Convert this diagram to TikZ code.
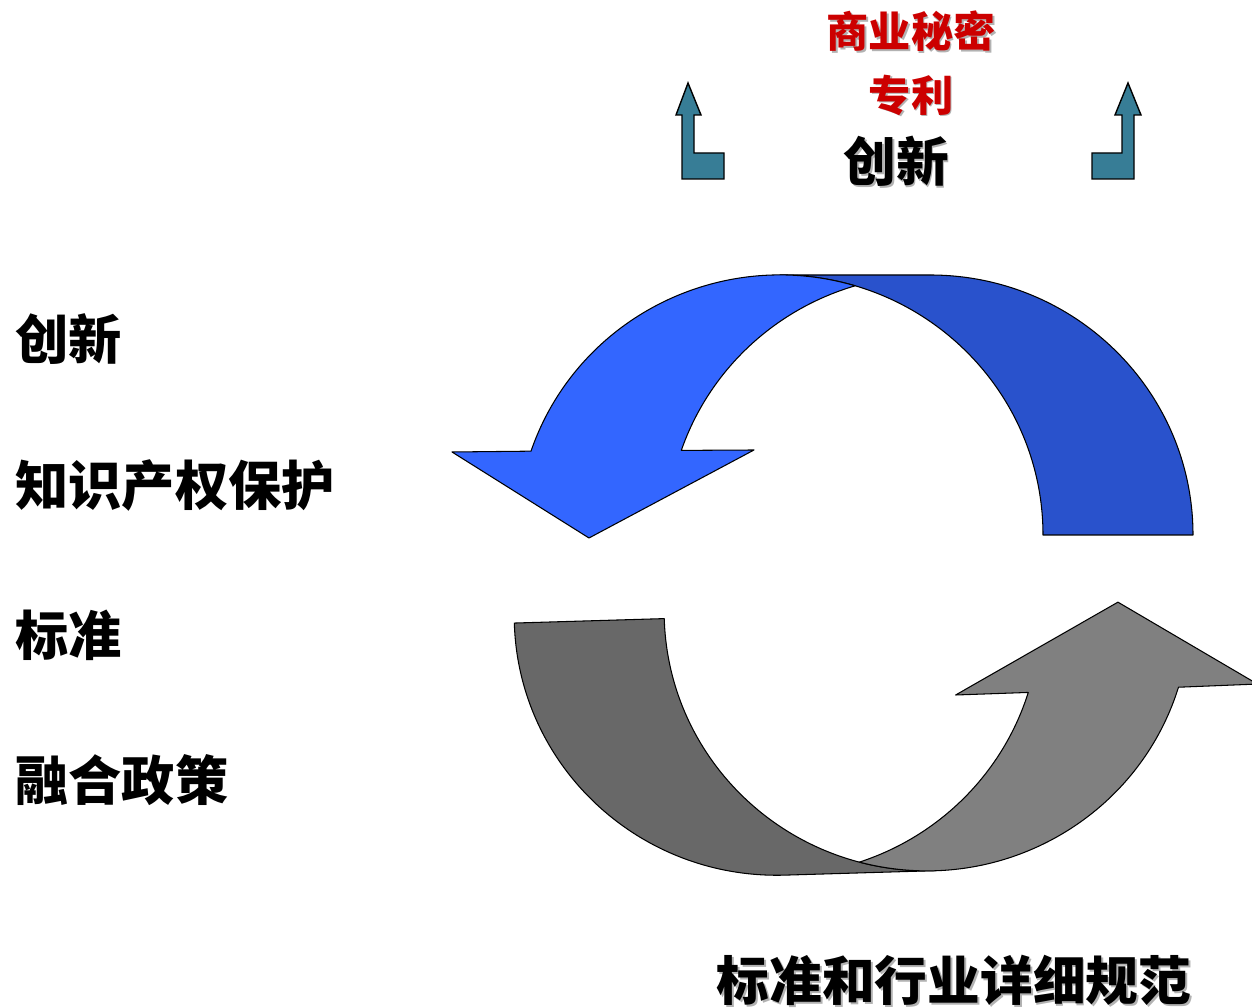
\documentclass[tikz,border=0pt]{standalone}
\usepackage{fontspec}
\newfontfamily\cjk{Noto Sans CJK SC}
\definecolor{bluefront}{RGB}{51,102,255}
\definecolor{blueback}{RGB}{41,82,204}
\definecolor{greyfront}{RGB}{128,128,128}
\definecolor{greyback}{RGB}{104,104,104}
\definecolor{bentteal}{RGB}{55,125,150}
\definecolor{secretred}{RGB}{204,0,0}
\newcommand\shadowed[1]{\makebox[0pt][l]{\hspace{1.1pt}\raisebox{-1.1pt}{\color{black!30}#1}}#1}
\newcommand\ringarrow[2]{%
\filldraw[band,fill=#1] (780,733) -- (930,733)
  arc[start angle=90,end angle=0,x radius=263,y radius=260] -- (1043,473)
  arc[start angle=0,end angle=90,x radius=263,y radius=260] -- cycle;
\filldraw[band,fill=#2] (855.1,722.2)
  arc[start angle=73.4,end angle=161.2,x radius=263,y radius=260]
  -- (452,556) -- (589,470) -- (754,558) -- (681.3,557.6)
  arc[start angle=161,end angle=106.6,x radius=263,y radius=260] -- cycle;}

\begin{document}
\begin{tikzpicture}[x=0.02cm,y=0.02cm,
band/.style={draw=black,line width=0.6pt,line join=round},
bent/.style={draw=black,fill=bentteal,line width=0.8pt,line join=miter},
side/.style={font=\cjk\bfseries\fontsize{30.3pt}{31pt}\selectfont,inner sep=0pt,anchor=west},
big/.style={font=\cjk\bfseries\fontsize{30pt}{31pt}\selectfont,inner sep=0pt},
small/.style={font=\cjk\bfseries\fontsize{24pt}{25pt}\selectfont,inner sep=0pt,text=secretred}]
\useasboundingbox (0,0) rectangle (1252,1008);

\ringarrow{blueback}{bluefront}
\begin{scope}[rotate around={181.7:(853,434)}]
\ringarrow{greyback}{greyfront}
\end{scope}

\filldraw[bent] (682,829) -- (682,893) -- (676,893) -- (688,925) -- (701,893)
  -- (694,893) -- (694,855) -- (724,855) -- (724,829) -- cycle;
\filldraw[bent] (1134,829) -- (1134,893) -- (1141,893) -- (1128,925) -- (1115,893)
  -- (1122,893) -- (1122,855) -- (1092,855) -- (1092,829) -- cycle;

\node[small] (secret) at (911,976) {\shadowed{商业秘密}};
\node[small] (patent) at (911,912) {\shadowed{专利}};
\node[big] (innovtop) at (896,846) {\shadowed{创新}};

\node[side] (innov) at (15,669) {创新};
\node[side] (ipr) at (15,522) {知识产权保护};
\node[side] (std) at (15,373) {标准};
\node[side] (policy) at (15,228) {融合政策};

\node[big] (norms) at (954,27) {\shadowed{标准和行业详细规范}};
\end{tikzpicture}
\end{document}
